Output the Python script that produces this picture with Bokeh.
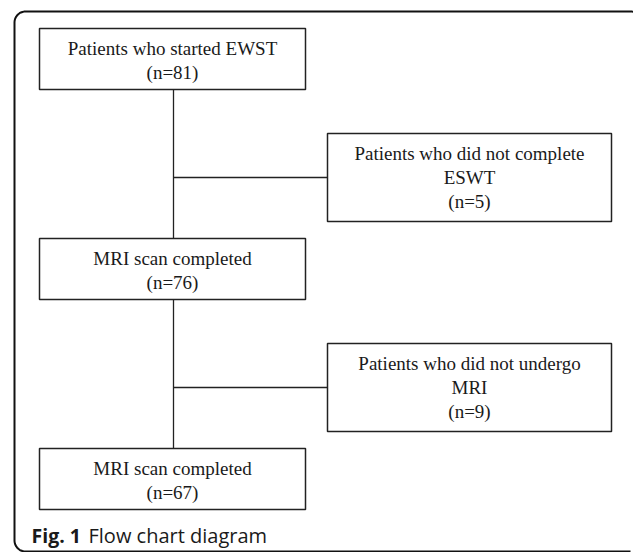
import numpy as np
from bokeh.plotting import figure
from bokeh.models import Range1d, ColumnDataSource
from bokeh.core.properties import value
from bokeh.embed import file_html
from bokeh.resources import INLINE

# ---- data ----
main_labels = ["Patients who started EWST", "MRI scan completed", "MRI scan completed"]
main_counts = [81, 76, 67]
side_labels = [["Patients who did not complete", "ESWT"], ["Patients who did not undergo", "MRI"]]
side_counts = [5, 9]
caption_bold = "Fig. 1"
caption_text = "Flow chart diagram"

# ---- layout (page pixel coordinates) ----
W, H = 633, 552
main_left, main_right, main_h = 39, 305, 61
main_tops = [28, 238, 448]
side_left, side_right, side_h = 327, 611, 88
side_tops = [133, 343]
stem_x = 173
line_off0, line_step = 19.5, 24
serif = value("Liberation Serif")
ink = "#222222"

p = figure(width=W, height=H, output_backend="svg", toolbar_location=None,
           x_range=Range1d(0, W), y_range=Range1d(H, 0),
           x_axis_type=None, y_axis_type=None, min_border=0,
           background_fill_color="white", border_fill_color="white")
p.outline_line_color = None
p.grid.visible = False

# outer rounded frame (open to the right)
r = 11
fl, ft, fb, fr = 14, 11, 551, 641
def arc(cx, cy, a0, a1, n=12):
    t = np.linspace(a0, a1, n)
    return cx + r * np.cos(t), cy + r * np.sin(t)
xs, ys = [fr - r], [fb]
ax, ay = arc(fl + r, fb - r, np.pi / 2, np.pi); xs += list(ax); ys += list(ay)
ax, ay = arc(fl + r, ft + r, np.pi, 1.5 * np.pi); xs += list(ax); ys += list(ay)
ax, ay = arc(fr - r, ft + r, 1.5 * np.pi, 2 * np.pi); xs += list(ax); ys += list(ay)
p.line(xs, ys, line_color="#111111", line_width=2)

# connectors
for i in range(2):
    p.segment(x0=stem_x, y0=main_tops[i] + main_h, x1=stem_x, y1=main_tops[i + 1],
              line_color=ink, line_width=1.3)
    mid = side_tops[i] + side_h / 2
    p.segment(x0=stem_x, y0=mid, x1=side_left, y1=mid, line_color=ink, line_width=1.3)

# main boxes
p.quad(left=main_left, right=main_right, top=main_tops,
       bottom=[t + main_h for t in main_tops],
       fill_color="white", line_color=ink, line_width=1.5)
# side boxes
p.quad(left=side_left, right=side_right, top=side_tops,
       bottom=[t + side_h for t in side_tops],
       fill_color="white", line_color=ink, line_width=1.5)

# texts
tx, ty, tt = [], [], []
cx_main = (main_left + main_right) / 2
for lab, n, top in zip(main_labels, main_counts, main_tops):
    lines = [lab, f"(n={n})"]
    for j, s in enumerate(lines):
        tx.append(cx_main); ty.append(top + line_off0 + j * line_step); tt.append(s)
cx_side = (side_left + side_right) / 2
for labs, n, top in zip(side_labels, side_counts, side_tops):
    lines = labs + [f"(n={n})"]
    for j, s in enumerate(lines):
        tx.append(cx_side); ty.append(top + line_off0 + j * line_step); tt.append(s)
src = ColumnDataSource(dict(x=tx, y=ty, text=tt))
p.text(x="x", y="y", text="text", source=src, text_font=serif, text_font_size="19px",
       text_align="center", text_baseline="middle", text_color="#1a1a1a")

# caption
cap_y = 535
p.text(x=[31], y=[cap_y], text=[caption_bold], text_font=value("Open Sans"),
       text_font_size="19.5px", text_font_style="bold", text_align="left",
       text_baseline="middle", text_color="#1a1a1a")
p.text(x=[88], y=[cap_y], text=[caption_text], text_font=value("Open Sans"),
       text_font_size="20px", text_align="left",
       text_baseline="middle", text_color="#1a1a1a")

open("out.html", "w").write(file_html(p, INLINE))
